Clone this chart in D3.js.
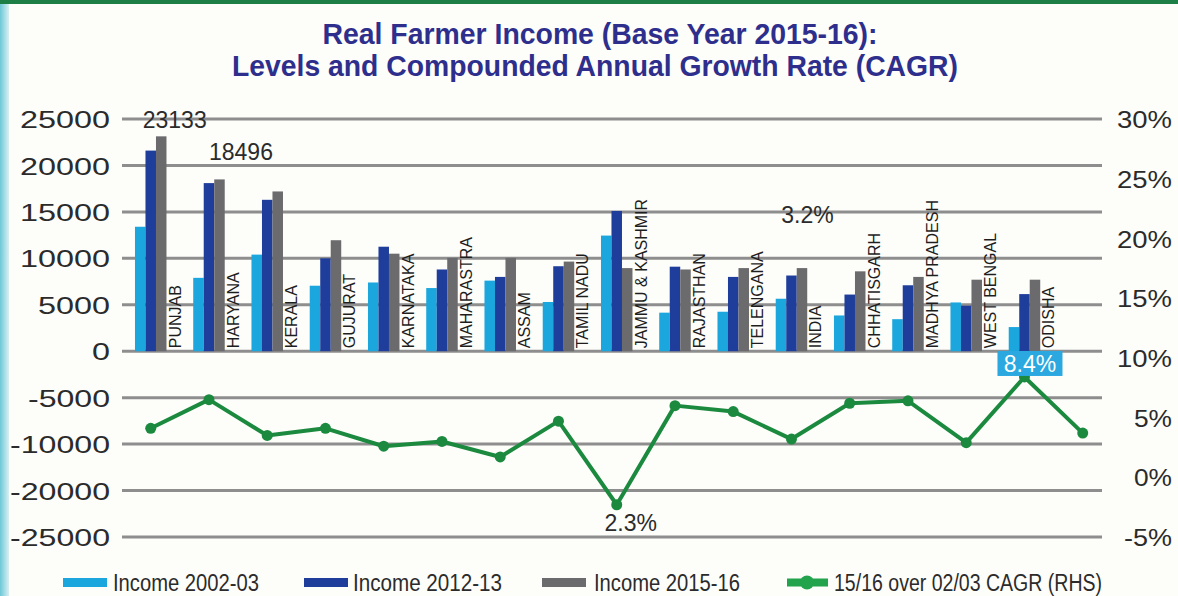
<!DOCTYPE html>
<html>
<head>
<meta charset="utf-8">
<script src="https://cdn.jsdelivr.net/npm/d3@7"></script>
<style>
  body { margin: 0; background: #fdfdfa; }
  svg { display: block; }
</style>
</head>
<body>
<script>

// categories along the x axis (last slot only carries a CAGR point)
var states = ["PUNJAB", "HARYANA", "KERALA", "GUJURAT", "KARNATAKA", "MAHARASTRA", "ASSAM",
    "TAMIL NADU", "JAMMU & KASHMIR", "RAJASTHAN", "TELENGANA", "INDIA", "CHHATISGARH",
    "MADHYA PRADESH", "WEST BENGAL", "ODISHA", ""];

var income0203 = [13400, 7900, 10400, 7050, 7400, 6800, 7600, 5300, 12450, 4150, 4250, 5650, 3850, 3450, 5250, 2600, null];
var income1213 = [21600, 18100, 16300, 10000, 11250, 8800, 8000, 9150, 15100, 9100, 8000, 8150, 6100, 7100, 4900, 6150, null];
var income1516 = [23133, 18496, 17200, 11950, 10500, 10050, 10050, 9650, 8950, 8800, 8950, 8950, 8600, 8000, 7700, 7700, null];
var cagr = [4.1, 6.5, 3.5, 4.1, 2.6, 3.0, 1.7, 4.7, -2.3, 6.0, 5.5, 3.2, 6.2, 6.4, 2.9, 8.4, 3.7];

var seriesNames = ["Income 2002-03", "Income 2012-13", "Income 2015-16"];
var lineName = "15/16 over 02/03 CAGR (RHS)";

// left axis labels as printed (value -15000 is skipped on the original)
var leftTickLabels = ["25000", "20000", "15000", "10000", "5000", "0", "-5000", "-10000", "-20000", "-25000"];
var leftTickValues = d3.range(25000, -20001, -5000);
var rightTickValues = d3.range(30, -6, -5);

var colors = ["#1ba6de", "#1f3e9b", "#6b6b6d"];
var green = "#1b8a3f";

var width = 1178, height = 596;
var plot = { left: 122, right: 1102, top: 119, bottom: 537 };

var svg = d3.select("body").append("svg")
    .attr("width", width)
    .attr("height", height);

// frame decoration
var defs = svg.append("defs");
var grad = defs.append("linearGradient").attr("id", "edge").attr("x1", 0).attr("x2", 1);
grad.append("stop").attr("offset", 0).attr("stop-color", "#6cc7d6");
grad.append("stop").attr("offset", 1).attr("stop-color", "#d9f0f2");
svg.append("rect").attr("x", 0).attr("y", 0).attr("width", 9).attr("height", height).attr("fill", "url(#edge)");
svg.append("rect").attr("x", 0).attr("y", 0).attr("width", width).attr("height", 4).attr("fill", "#1d7f45");

// title
var title = svg.append("g")
    .attr("font-family", "'Liberation Sans Narrow', 'Arial Narrow', 'Liberation Sans', Arial, sans-serif")
    .attr("font-weight", "bold")
    .attr("font-size", "29px")
    .attr("fill", "#2e2f8c")
    .attr("text-anchor", "middle");
title.append("text").attr("x", 600).attr("y", 44)
    .attr("textLength", 555).attr("lengthAdjust", "spacingAndGlyphs")
    .text("Real Farmer Income (Base Year 2015-16):");
title.append("text").attr("x", 595).attr("y", 76)
    .attr("textLength", 726).attr("lengthAdjust", "spacingAndGlyphs")
    .text("Levels and Compounded Annual Growth Rate (CAGR)");

// scales
var x = d3.scaleBand()
    .domain(d3.range(states.length))
    .range([121.6, 121.6 + 58.25 * states.length])
    .padding(0);

var xInner = d3.scaleBand()
    .domain([0, 1, 2])
    .range([-15.75, 15.75])
    .padding(0);

var yLeft = d3.scaleLinear()
    .domain([-20000, 25000])
    .range([plot.bottom, plot.top]);

var yRight = d3.scaleLinear()
    .domain([-5, 30])
    .range([plot.bottom, plot.top]);

function cx(i) { return x(i) + x.bandwidth() / 2; }

// gridlines
svg.append("g").selectAll("line")
    .data(leftTickValues)
    .enter().append("line")
    .attr("x1", plot.left).attr("x2", plot.right)
    .attr("y1", function (d) { return yLeft(d); })
    .attr("y2", function (d) { return yLeft(d); })
    .attr("stroke", "#8e8e8e")
    .attr("stroke-width", 3);

// left axis
var yAxisL = d3.axisLeft(yLeft)
    .tickValues(leftTickValues)
    .tickFormat(function (d, i) { return leftTickLabels[i]; })
    .tickSize(0)
    .tickPadding(0);

var gL = svg.append("g")
    .attr("transform", "translate(110,0)")
    .call(yAxisL);
gL.select(".domain").remove();
gL.selectAll("text")
    .attr("font-family", "'Liberation Sans', Arial, sans-serif")
    .attr("font-size", "24px")
    .attr("fill", "#2b2b2b")
    .attr("dy", "0.36em")
    .attr("textLength", function (d, i) {
        var s = leftTickLabels[i];
        return s.replace("-", "").length * 18 + (s[0] == "-" ? 10 : 0);
    })
    .attr("lengthAdjust", "spacingAndGlyphs");

// right axis
var yAxisR = d3.axisRight(yRight)
    .tickValues(rightTickValues)
    .tickFormat(function (d) { return d + "%"; })
    .tickSize(0)
    .tickPadding(0);

var gR = svg.append("g")
    .attr("transform", "translate(1172,0)")
    .call(yAxisR);
gR.select(".domain").remove();
gR.selectAll("text")
    .attr("font-family", "'Liberation Sans', Arial, sans-serif")
    .attr("font-size", "24px")
    .attr("fill", "#2b2b2b")
    .attr("text-anchor", "end")
    .attr("dy", "0.36em")
    .attr("textLength", function (d) {
        var s = String(Math.abs(d));
        return s.length * 17 + 21 + (d < 0 ? 10 : 0);
    })
    .attr("lengthAdjust", "spacingAndGlyphs");

// bars
var allSeries = [income0203, income1213, income1516];
allSeries.forEach(function (vals, s) {
    svg.append("g").selectAll("rect")
        .data(vals)
        .enter().filter(function (d) { return d != null; })
        .append("rect")
        .attr("x", function (d, i) { return cx(i) + xInner(s); })
        .attr("width", xInner.bandwidth())
        .attr("y", function (d) { return yLeft(d); })
        .attr("height", function (d) { return yLeft(0) - yLeft(d); })
        .attr("fill", colors[s]);
});

// rotated state labels
svg.append("g").selectAll("text")
    .data(states)
    .enter().append("text")
    .attr("transform", function (d, i) { return "translate(" + (cx(i) + 30) + "," + (yLeft(0) - 3) + ") rotate(-90)"; })
    .attr("font-family", "'Liberation Sans', Arial, sans-serif")
    .attr("font-size", "16px")
    .attr("fill", "#1e1e1e")
    .text(function (d) { return d; });

// CAGR line
var line = d3.line()
    .x(function (d, i) { return cx(i); })
    .y(function (d) { return yRight(d); });

svg.append("path")
    .datum(cagr)
    .attr("d", line)
    .attr("fill", "none")
    .attr("stroke", green)
    .attr("stroke-width", 4)
    .attr("stroke-linejoin", "round");

svg.append("g").selectAll("circle")
    .data(cagr)
    .enter().append("circle")
    .attr("cx", function (d, i) { return cx(i); })
    .attr("cy", function (d) { return yRight(d); })
    .attr("r", 5.5)
    .attr("fill", green);

// data labels
var labelFont = "'Liberation Sans', Arial, sans-serif";
function addLabel(tx, ty, txt) {
    return svg.append("text")
        .attr("x", tx).attr("y", ty)
        .attr("text-anchor", "middle")
        .attr("font-family", labelFont)
        .attr("font-size", "23px")
        .attr("fill", "#2b2b2b")
        .text(txt);
}
addLabel(cx(0) + 24, yLeft(income1516[0]) - 8, d3.format("d")(income1516[0]));
addLabel(cx(1) + 32, yLeft(income1516[1]) - 19, d3.format("d")(income1516[1]));
addLabel(cx(11) + 16, yRight(cagr[11]) - 216, cagr[11].toFixed(1) + "%");
addLabel(cx(8) + 14, yRight(cagr[8]) + 26, Math.abs(cagr[8]).toFixed(1) + "%");

svg.append("rect")
    .attr("x", cx(15) - 27).attr("y", yRight(cagr[15]) - 26)
    .attr("width", 65).attr("height", 25)
    .attr("fill", "#2aa8df");
addLabel(cx(15) + 5.5, yRight(cagr[15]) - 5, cagr[15].toFixed(1) + "%").attr("fill", "#ffffff");

// legend
var legend = svg.append("g")
    .attr("font-family", "'Liberation Sans Narrow', 'Arial Narrow', 'Liberation Sans', Arial, sans-serif")
    .attr("font-size", "23px")
    .attr("fill", "#2b2b2b");

var legendItems = [
    { sx: 63, tx: 113, tw: 146 },
    { sx: 304, tx: 353, tw: 149 },
    { sx: 542, tx: 594, tw: 146 }
];
legendItems.forEach(function (it, s) {
    legend.append("rect")
        .attr("x", it.sx).attr("y", 578)
        .attr("width", 44).attr("height", 9)
        .attr("fill", colors[s]);
    legend.append("text")
        .attr("x", it.tx).attr("y", 591)
        .attr("textLength", it.tw).attr("lengthAdjust", "spacingAndGlyphs")
        .text(seriesNames[s]);
});
legend.append("line")
    .attr("x1", 787).attr("x2", 828)
    .attr("y1", 582.5).attr("y2", 582.5)
    .attr("stroke", "#22a34c").attr("stroke-width", 8);
legend.append("circle")
    .attr("cx", 807).attr("cy", 582.5).attr("r", 7)
    .attr("fill", "#22a34c");
legend.append("text")
    .attr("x", 834).attr("y", 591)
    .attr("textLength", 268).attr("lengthAdjust", "spacingAndGlyphs")
    .text(lineName);

</script>
</body>
</html>
